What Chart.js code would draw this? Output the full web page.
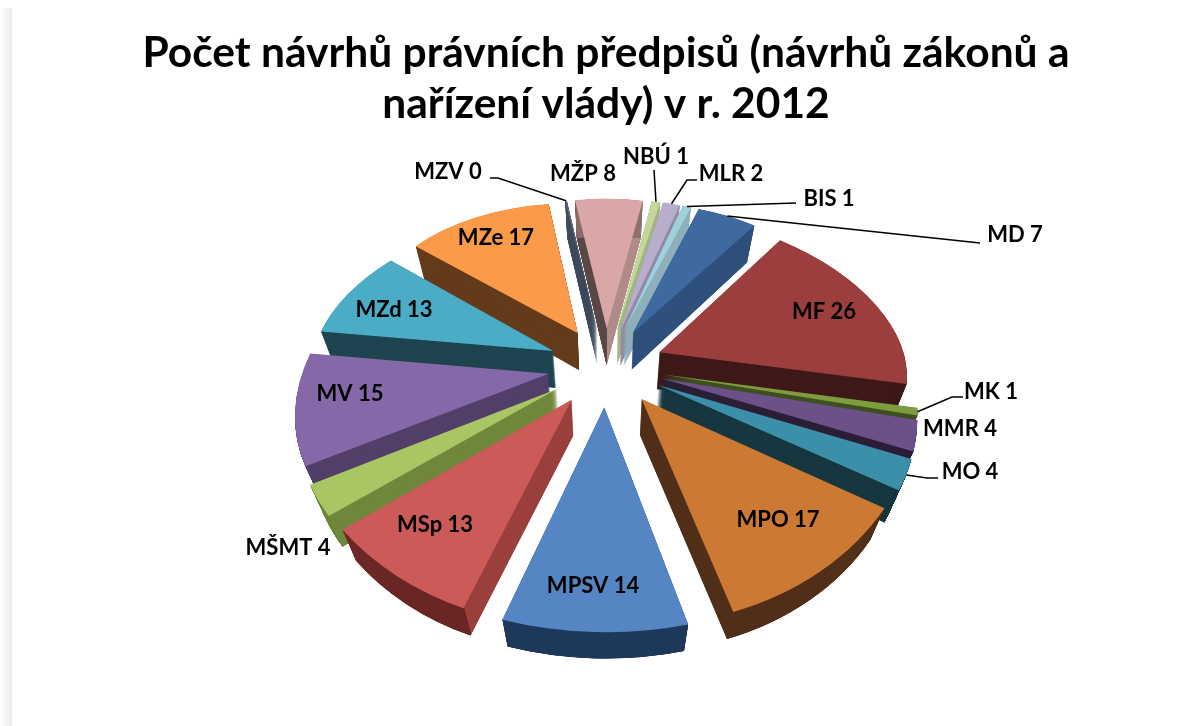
<!DOCTYPE html>
<html lang="cs">

<head>
    <meta charset="UTF-8" />
    <title>Počet návrhů právních předpisů</title>
    <script src="https://cdn.jsdelivr.net/npm/chart.js@4.4.1/dist/chart.umd.min.js"></script>
    <style>
        html, body { margin: 0; padding: 0; background: #ffffff; overflow: hidden; }
        #strip { position: absolute; left: 0; top: 8px; width: 12px; height: 718px; background: linear-gradient(to right, #ffffff, #ebebeb); }
        canvas { position: absolute; left: 0; top: 0; display: block; }
    </style>
</head>

<body>
    <div id="strip"></div>
    <canvas id="pie" width="1187" height="726"></canvas>

    <script>
        // MZV is labelled 0 but still shows as a sliver, so it is a small non-zero value
        const categories = ['BIS', 'MD', 'MF', 'MK', 'MMR', 'MO', 'MPO', 'MPSV', 'MSp', 'MŠMT', 'MV', 'MZd', 'MZe', 'MZV', 'MŽP', 'NBÚ', 'MLR'];
        const values = [1, 7, 26, 1, 4, 4, 17, 14, 13, 4, 15, 13, 17, 0.2, 8, 1, 2];

        const topColors = ['#9fd0de', '#3f6a9f', '#9c3e3d', '#7d9c3e', '#6c5088', '#3c8fa8', '#cc7a33', '#5585c3', '#cb5a58', '#a8c664', '#8568a8', '#4bacc6', '#fb9a48', '#55657a', '#d9a8a6', '#c3d69b', '#b8aecb'];
        const wallColors = ['#8fb0ba', '#2f507a', '#3f1a18', '#3f5020', '#2c2038', '#183840', '#52301a', '#1f3a5c', '#9b403d', '#70883c', '#53406a', '#1f4550', '#653c1c', '#3f4c5c', '#b08c8a', '#a3b583', '#948ca6'];
        const rimColors = ['#8fb0ba', '#2f507a', '#3f1a18', '#3f5020', '#2c2038', '#183840', '#52301a', '#1f3a5c', '#6b2826', '#70883c', '#53406a', '#1f4550', '#653c1c', '#3f4c5c', '#8f6e6c', '#a3b583', '#948ca6'];
        // only MŽP shows a darker wall on its left side
        const leftWallColors = [null, null, null, null, null, null, null, null, null, null, null, null, null, null, '#5c4a4a', null, null];

        const explode = 58;

        // perspective of the pie plane
        const CX = 606, CY = 366, SQUASH = 0.68, FOCAL = 1300;
        const project = (u, v) => {
            const s = 1 / (1 - v / FOCAL);
            return [CX + u * s, CY + SQUASH * v * s];
        };

        // text centres, [x, y]
        const labelSpots = [[829, 199], [1015, 235], [824, 312], [991, 392], [960, 429], [970, 472], [778, 520], [593, 586], [435, 525], [288, 548], [350, 394], [394, 310], [496, 238], [448, 172], [583, 174], [656, 157], [731, 174]];
        // where the leader leaves the label; null = no leader
        const leaderEnds = [[[796, 203]], [[980, 243]], null, [[963, 397], [952, 397]], null, [[938, 478], [927, 478]], null, null, null, null, null, null, null, [[490, 178], [498, 178]], null, [[654, 170]], [[697, 180], [687, 180]]];

        function sliceGeometry(arc) {
            const mid = (arc.startAngle + arc.endAngle) / 2;
            const tip = [explode * Math.cos(mid), explode * Math.sin(mid)];
            const R = arc.outerRadius;
            const a = [tip[0] + R * Math.cos(arc.startAngle), tip[1] + R * Math.sin(arc.startAngle)];
            const b = [tip[0] + R * Math.cos(arc.endAngle), tip[1] + R * Math.sin(arc.endAngle)];
            return { mid, tip, a, b, R };
        }

        // affine that sends the arc's centre and two rim corners onto their exploded, projected places
        function sliceMatrix(arc) {
            const g = sliceGeometry(arc);
            const st = project(g.tip[0], g.tip[1]), sa = project(g.a[0], g.a[1]), sb = project(g.b[0], g.b[1]);
            const e1 = [g.a[0] - g.tip[0], g.a[1] - g.tip[1]], e2 = [g.b[0] - g.tip[0], g.b[1] - g.tip[1]];
            const f1 = [sa[0] - st[0], sa[1] - st[1]], f2 = [sb[0] - st[0], sb[1] - st[1]];
            const det = e1[0] * e2[1] - e2[0] * e1[1];
            const m00 = (f1[0] * e2[1] - f2[0] * e1[1]) / det, m01 = (f2[0] * e1[0] - f1[0] * e2[0]) / det;
            const m10 = (f1[1] * e2[1] - f2[1] * e1[1]) / det, m11 = (f2[1] * e1[0] - f1[1] * e2[0]) / det;
            return [m00, m10, m01, m11, st[0] - (m00 * arc.x + m01 * arc.y), st[1] - (m10 * arc.x + m11 * arc.y)];
        }

        function paintArc(ctx, arc, color, matrix, inner) {
            const keepOptions = arc.options, keepInner = arc.innerRadius;
            arc.options = Object.assign({}, keepOptions, { backgroundColor: color, borderWidth: 0 });
            arc.innerRadius = inner;
            ctx.save();
            ctx.transform(...matrix);
            arc.draw(ctx);
            ctx.restore();
            arc.options = keepOptions;
            arc.innerRadius = keepInner;
        }

        function paintWalls(ctx, arc, color, m, inner, slope) {
            const depth = 37, steps = 80;
            for (let k = steps; k >= 1; k--) {
                const t = k / steps;
                ctx.save();
                ctx.transform(1 - 0.05 * t, 0, 0, 1 - slope * t, CX * 0.05 * t, t * (depth + 365 * slope));
                paintArc(ctx, arc, color, m, inner);
                ctx.restore();
            }
        }

        const pie3d = {
            id: 'pie3d',
            beforeDatasetsDraw(chart) {
                const ctx = chart.ctx;
                const arcs = chart.getDatasetMeta(0).data;
                const order = arcs.map((a, i) => i).sort((i, j) =>
                    Math.sin((arcs[i].startAngle + arcs[i].endAngle) / 2) - Math.sin((arcs[j].startAngle + arcs[j].endAngle) / 2));
                order.forEach(i => {
                    const arc = arcs[i];
                    const m = sliceMatrix(arc);
                    const g = sliceGeometry(arc);
                    const slope = Math.sin(g.mid) > 0 ? 0.04 : 0;
                    paintWalls(ctx, arc, wallColors[i], m, 0, slope);
                    if (leftWallColors[i]) {
                        ctx.save();
                        ctx.beginPath();
                        ctx.rect(0, 0, project(g.tip[0], g.tip[1])[0], chart.height);
                        ctx.clip();
                        paintWalls(ctx, arc, leftWallColors[i], m, 0, slope);
                        ctx.restore();
                    }
                    paintWalls(ctx, arc, rimColors[i], m, arc.outerRadius - 1.5, slope);
                    paintArc(ctx, arc, topColors[i], m, 0);
                });
                return false;
            },
            afterDraw(chart) {
                const ctx = chart.ctx;
                const arcs = chart.getDatasetMeta(0).data;
                ctx.save();
                ctx.strokeStyle = '#000000';
                ctx.lineWidth = 1.5;
                leaderEnds.forEach((pts, i) => {
                    if (!pts) return;
                    const g = sliceGeometry(arcs[i]);
                    const rim = project(g.tip[0] + g.R * Math.cos(g.mid), g.tip[1] + g.R * Math.sin(g.mid));
                    ctx.beginPath();
                    ctx.moveTo(pts[0][0], pts[0][1]);
                    pts.slice(1).forEach(p => ctx.lineTo(p[0], p[1]));
                    ctx.lineTo(rim[0], rim[1]);
                    ctx.stroke();
                });
                ctx.fillStyle = '#000000';
                ctx.font = 'bold 22px Lato';
                ctx.textAlign = 'center';
                ctx.textBaseline = 'middle';
                categories.forEach((c, i) => {
                    ctx.fillText(c + ' ' + Math.round(values[i]), labelSpots[i][0], labelSpots[i][1]);
                });
                ctx.restore();
            }
        };

        new Chart(document.getElementById('pie').getContext('2d'), {
            type: 'pie',
            plugins: [pie3d],
            data: {
                labels: categories,
                datasets: [{
                    data: values,
                    backgroundColor: topColors,
                    borderWidth: 0
                }]
            },
            options: {
                responsive: false,
                animation: false,
                radius: 245,
                rotation: 17.8,
                layout: { padding: { top: 10, left: 25 } },
                plugins: {
                    legend: { display: false },
                    tooltip: { enabled: false },
                    title: {
                        display: true,
                        text: ['Počet návrhů právních předpisů (návrhů zákonů a', 'nařízení vlády) v r. 2012'],
                        color: '#000000',
                        font: { family: 'Lato', size: 42.5, weight: 'bold', lineHeight: 1.22 },
                        padding: { top: 17, bottom: 10 }
                    }
                }
            }
        });
    </script>
</body>

</html>
